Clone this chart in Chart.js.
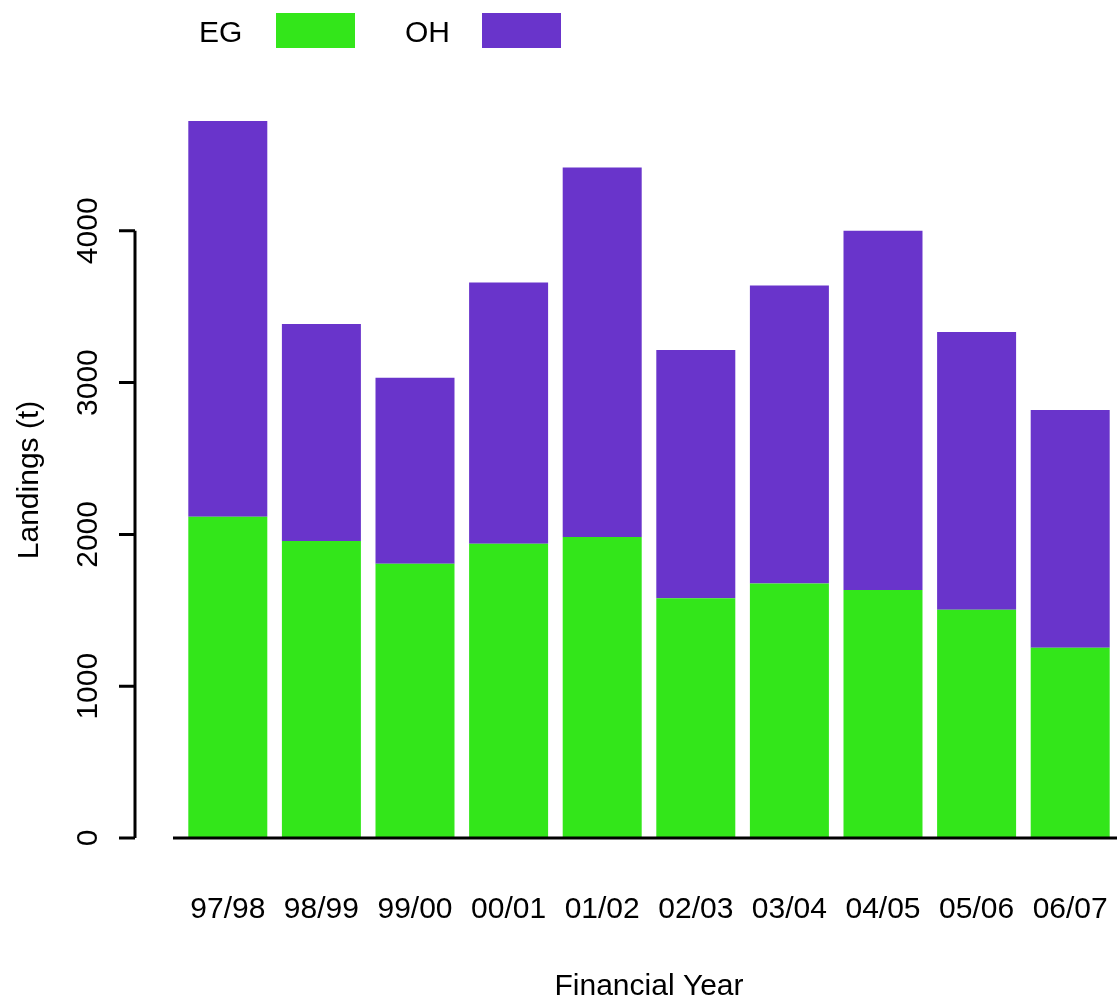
<!DOCTYPE html>
<html>
<head>
<meta charset="utf-8">
<script src="https://cdn.jsdelivr.net/npm/chart.js@4.4.0/dist/chart.umd.min.js"></script>
<style>
  html, body { margin: 0; padding: 0; background: #ffffff; }
  #wrap { width: 1117px; height: 998px; }
</style>
</head>
<body>
<div id="wrap"><canvas id="landingsChart" width="1117" height="998"></canvas></div>
<script>
// Financial years (x categories)
const years = ['97/98', '98/99', '99/00', '00/01', '01/02', '02/03', '03/04', '04/05', '05/06', '06/07'];
// Landings in tonnes
const egLandings = [2117, 1957, 1806, 1939, 1983, 1580, 1676, 1633, 1503, 1253];
const ohLandings = [2607, 1429, 1226, 1721, 2434, 1635, 1964, 2367, 1830, 1567];
// y axis tick values
const yTicks = [0, 1000, 2000, 3000, 4000];

const FONT = '30px "Liberation Sans", Arial, Helvetica, sans-serif';
const EG_COLOR = '#33E61A';
const OH_COLOR = '#6934CB';

// draws R-style axes, labels and the top legend
const rAxes = {
    id: 'rAxes',
    afterDraw(chart) {
        const ctx = chart.ctx;
        const x = chart.scales.x;
        const y = chart.scales.y;
        const area = chart.chartArea;
        ctx.save();
        ctx.fillStyle = '#000';
        ctx.strokeStyle = '#000';
        ctx.lineWidth = 3;
        ctx.font = FONT;

        // x axis line across the bottom
        const y0 = y.getPixelForValue(0);
        ctx.beginPath();
        ctx.moveTo(173, y0);
        ctx.lineTo(chart.width, y0);
        ctx.stroke();

        // y axis line and ticks
        const axX = 135;
        ctx.beginPath();
        ctx.moveTo(axX, y.getPixelForValue(yTicks[0]));
        ctx.lineTo(axX, y.getPixelForValue(yTicks[yTicks.length - 1]));
        yTicks.forEach(t => {
            const py = y.getPixelForValue(t);
            ctx.moveTo(119, py);
            ctx.lineTo(axX, py);
        });
        ctx.stroke();

        // y tick labels, rotated
        ctx.textAlign = 'center';
        ctx.textBaseline = 'alphabetic';
        yTicks.forEach(t => {
            ctx.save();
            ctx.translate(97, y.getPixelForValue(t));
            ctx.rotate(-Math.PI / 2);
            ctx.fillText(String(t), 0, 0);
            ctx.restore();
        });

        // x category labels
        years.forEach((lab, i) => {
            ctx.fillText(lab, x.getPixelForValue(i), 918);
        });

        // axis titles
        ctx.fillText('Financial Year', (area.left + area.right) / 2, 995);
        ctx.save();
        ctx.translate(38, 480);
        ctx.rotate(-Math.PI / 2);
        ctx.fillText('Landings (t)', 0, 0);
        ctx.restore();

        // legend: text then colour box
        ctx.textAlign = 'left';
        const legend = [
            { text: chart.data.datasets[0].label, tx: 199, bx: 276, color: EG_COLOR },
            { text: chart.data.datasets[1].label, tx: 405, bx: 482, color: OH_COLOR }
        ];
        legend.forEach(item => {
            ctx.fillStyle = '#000';
            ctx.fillText(item.text, item.tx, 42);
            ctx.fillStyle = item.color;
            ctx.fillRect(item.bx, 13, 79, 35);
        });
        ctx.restore();
    }
};

const chart = new Chart(document.getElementById('landingsChart').getContext('2d'), {
    type: 'bar',
    data: {
        labels: years,
        datasets: [
            {
                label: 'EG',
                data: egLandings,
                backgroundColor: EG_COLOR,
                borderWidth: 0,
                barPercentage: 0.844,
                categoryPercentage: 1.0
            },
            {
                label: 'OH',
                data: ohLandings,
                backgroundColor: OH_COLOR,
                borderWidth: 0,
                barPercentage: 0.844,
                categoryPercentage: 1.0
            }
        ]
    },
    options: {
        responsive: false,
        animation: false,
        layout: {
            padding: { left: 181, right: 0, top: 79, bottom: 160 }
        },
        plugins: {
            legend: { display: false },
            tooltip: { enabled: false },
            title: { display: false }
        },
        scales: {
            x: { stacked: true, display: false, offset: true },
            y: { stacked: true, display: false, min: 0, max: 5000 }
        }
    },
    plugins: [rAxes]
});
</script>
</body>
</html>
